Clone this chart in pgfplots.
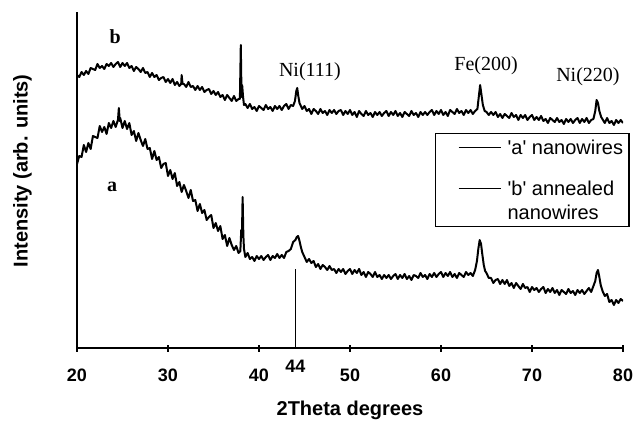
\documentclass[border=0pt]{standalone}
\usepackage{pgfplots}
\pgfplotsset{compat=1.18}
\usepackage{fontspec}
\newfontfamily\arial{Liberation Sans}
\newfontfamily\tnr{Liberation Serif}

\begin{document}
\begin{tikzpicture}
\path[use as bounding box] (0pt,0pt) rectangle (636pt,420pt);
\begin{axis}[
    at={(77pt,72pt)}, anchor=south west,
    scale only axis, width=546pt, height=336pt,
    xmin=20, xmax=80, ymin=-1, ymax=335,
    axis lines*=left,
    axis line style={line width=1.6pt},
    xtick={20,30,...,80}, ytick=\empty,
    xtick align=center, major tick length=7pt,
    tick style={line width=1.3pt, black},
    /pgf/number format/assume math mode=true,
    xticklabel style={font=\arial\bfseries\fontsize{18}{18}\selectfont, anchor=center, yshift=-24pt},
    extra x ticks={44},
    extra x tick style={major tick length=0pt, xticklabel style={yshift=6pt}},
    xlabel={2Theta degrees},
    xlabel style={font=\arial\bfseries\fontsize{20}{20}\selectfont, at={(axis description cs:0.5,0)}, anchor=center, yshift=-62pt},
    ylabel={Intensity (arb. units)},
    ylabel style={font=\arial\bfseries\fontsize{20}{20}\selectfont, at={(axis description cs:-0.1,0.527)}, anchor=center},
    legend style={at={(axis cs:59.34,214)}, anchor=north west, draw=black, line width=1.2pt,
        font=\arial\fontsize{20}{24}\selectfont, cells={anchor=west, align=left},
        row sep=21pt, inner xsep=4pt, inner ysep=4pt},
    legend image code/.code={\path (-18pt,0pt) (46pt,0pt); \draw[line width=1pt] (0pt,0pt) -- (42pt,0pt);},
]

% curve a : nanowires
\addplot[black, line width=2pt, line join=round] coordinates {
(20.00,183) (20.25,191) (20.50,190) (20.75,202) (21.00,195) (21.25,204) (21.50,198) (21.75,211)
(22.00,210) (22.25,209) (22.50,221) (22.75,215) (23.00,220) (23.25,213) (23.50,224) (23.75,219)
(24.00,226) (24.25,220) (24.50,227) (24.60,239) (24.70,226) (24.75,229) (25.00,219) (25.25,226)
(25.50,218) (25.75,224) (26.00,212) (26.25,216) (26.50,206) (26.75,214) (27.00,207) (27.25,201)
(27.50,208) (27.75,198) (28.00,199) (28.25,188) (28.50,196) (28.75,187) (29.00,190) (29.25,179)
(29.50,183) (29.75,184) (30.00,171) (30.25,177) (30.50,168) (30.75,174) (31.00,161) (31.25,165)
(31.50,155) (31.75,162) (32.00,156) (32.25,149) (32.50,157) (32.75,146) (33.00,147) (33.25,136)
(33.50,143) (33.75,134) (34.00,137) (34.25,127) (34.50,130) (34.75,132) (35.00,119) (35.25,124)
(35.50,116) (35.75,121) (36.00,108) (36.25,112) (36.50,101) (36.75,109) (37.00,102) (37.25,97)
(37.50,101) (37.75,94) (37.95,96) (38.05,117) (38.12,110) (38.20,150) (38.28,112) (38.35,98)
(38.50,90) (38.75,94) (39.00,88) (39.25,90) (39.50,86) (39.75,91) (40.00,88) (40.25,91)
(40.50,87) (40.75,90) (41.00,92) (41.25,87) (41.50,91) (41.75,89) (42.00,93) (42.25,89)
(42.50,92) (42.75,89) (43.00,95) (43.25,96) (43.50,98) (43.75,105) (44.00,107) (44.15,110)
(44.30,111) (44.45,106) (44.60,100) (44.75,95) (45.00,90) (45.25,85) (45.50,88) (45.75,84)
(46.00,86) (46.25,80) (46.50,83) (46.75,78) (47.00,82) (47.25,80) (47.50,77) (47.75,81)
(48.00,77) (48.25,78) (48.50,74) (48.75,78) (49.00,75) (49.25,78) (49.50,73) (49.75,76)
(50.00,78) (50.25,73) (50.50,77) (50.75,74) (51.00,78) (51.25,72) (51.50,75) (51.75,70)
(52.00,75) (52.25,73) (52.50,70) (52.75,75) (53.00,70) (53.25,72) (53.50,68) (53.75,72)
(54.00,69) (54.25,72) (54.50,68) (54.75,71) (55.00,73) (55.25,68) (55.50,72) (55.75,69)
(56.00,73) (56.25,68) (56.50,71) (56.75,67) (57.00,72) (57.25,71) (57.50,69) (57.75,74)
(58.00,70) (58.25,72) (58.50,68) (58.75,73) (59.00,70) (59.25,74) (59.50,70) (59.75,73)
(60.00,75) (60.25,70) (60.50,74) (60.75,71) (61.00,75) (61.25,70) (61.50,73) (61.75,69)
(62.00,74) (62.25,72) (62.50,70) (62.75,75) (63.00,72) (63.25,74) (63.50,71) (63.75,77)
(63.95,86) (64.10,98) (64.25,107) (64.40,103) (64.55,92) (64.70,82) (64.85,76) (65.00,74)
(65.25,69) (65.50,69) (65.75,64) (66.00,67) (66.25,68) (66.50,63) (66.75,67) (67.00,63)
(67.25,67) (67.50,61) (67.75,64) (68.00,59) (68.25,64) (68.50,61) (68.75,58) (69.00,63)
(69.25,59) (69.50,60) (69.75,55) (70.00,60) (70.25,57) (70.50,59) (70.75,55) (71.00,58)
(71.25,60) (71.50,54) (71.75,58) (72.00,55) (72.25,59) (72.50,54) (72.75,57) (73.00,52)
(73.25,57) (73.50,55) (73.75,53) (74.00,58) (74.25,54) (74.50,56) (74.75,52) (75.00,57)
(75.25,54) (75.50,57) (75.75,53) (76.00,56) (76.25,59) (76.50,55) (76.75,61) (76.95,66)
(77.10,74) (77.25,77) (77.40,70) (77.55,62) (77.75,56) (78.00,51) (78.25,53) (78.50,45)
(78.75,47) (79.00,42) (79.25,47) (79.50,44) (79.75,48) (80.00,46)
};
\addlegendentry{'a' nanowires}

% curve b : annealed nanowires
\addplot[black, line width=2pt, line join=round,
    legend image code/.code={\path (-18pt,-12pt) (46pt,12pt); \draw[line width=1pt] (0pt,12pt) -- (42pt,12pt);}] coordinates {
(20.00,272) (20.25,270) (20.50,275) (20.75,272) (21.00,276) (21.25,273) (21.50,279) (21.75,278)
(22.00,277) (22.25,283) (22.50,279) (22.75,281) (23.00,278) (23.25,283) (23.50,281) (23.75,284)
(24.00,280) (24.25,283) (24.50,285) (24.75,280) (25.00,284) (25.25,281) (25.50,284) (25.75,279)
(26.00,281) (26.25,276) (26.50,280) (26.75,278) (27.00,275) (27.25,279) (27.50,274) (27.75,275)
(28.00,270) (28.25,274) (28.50,270) (28.75,272) (29.00,267) (29.25,269) (29.50,270) (29.75,265)
(30.00,268) (30.25,264) (30.50,268) (30.75,262) (31.00,265) (31.25,261) (31.45,263) (31.50,272)
(31.60,263) (31.75,263) (32.00,260) (32.25,265) (32.50,260) (32.75,261) (33.00,257) (33.25,261)
(33.50,257) (33.75,260) (34.00,255) (34.25,257) (34.50,258) (34.75,253) (35.00,256) (35.25,252)
(35.50,255) (35.75,250) (36.00,252) (36.25,247) (36.50,252) (36.75,249) (37.00,246) (37.25,251)
(37.50,246) (37.75,248) (37.90,248) (38.00,302) (38.08,250) (38.15,262) (38.25,250) (38.35,242)
(38.50,243) (38.75,239) (39.00,243) (39.25,238) (39.50,240) (39.75,236) (40.00,241) (40.25,239)
(40.50,237) (40.75,242) (41.00,238) (41.25,240) (41.50,236) (41.75,241) (42.00,238) (42.25,241)
(42.50,237) (42.75,241) (43.00,243) (43.25,238) (43.50,242) (43.75,241) (43.95,246) (44.10,256)
(44.20,259) (44.30,252) (44.45,244) (44.60,241) (44.75,238) (45.00,241) (45.25,236) (45.50,238)
(45.75,233) (46.00,238) (46.25,236) (46.50,233) (46.75,238) (47.00,234) (47.25,236) (47.50,232)
(47.75,237) (48.00,234) (48.25,237) (48.50,233) (48.75,236) (49.00,237) (49.25,232) (49.50,236)
(49.75,233) (50.00,237) (50.25,232) (50.50,235) (50.75,230) (51.00,236) (51.25,233) (51.50,231)
(51.75,236) (52.00,232) (52.25,234) (52.50,230) (52.75,235) (53.00,232) (53.25,235) (53.50,231)
(53.75,234) (54.00,236) (54.25,231) (54.50,235) (54.75,232) (55.00,236) (55.25,231) (55.50,234)
(55.75,230) (56.00,235) (56.25,233) (56.50,231) (56.75,236) (57.00,232) (57.25,234) (57.50,230)
(57.75,235) (58.00,232) (58.25,235) (58.50,232) (58.75,235) (59.00,237) (59.25,232) (59.50,236)
(59.75,233) (60.00,237) (60.25,232) (60.50,235) (60.75,231) (61.00,237) (61.25,235) (61.50,233)
(61.75,238) (62.00,234) (62.25,236) (62.50,232) (62.75,237) (63.00,234) (63.25,237) (63.50,233)
(63.75,236) (64.00,238) (64.15,250) (64.30,262) (64.45,252) (64.60,242) (64.80,236) (65.00,235)
(65.25,232) (65.50,235) (65.75,232) (66.00,235) (66.25,230) (66.50,233) (66.75,229) (67.00,233)
(67.25,231) (67.50,229) (67.75,234) (68.00,230) (68.25,232) (68.50,227) (68.75,232) (69.00,229)
(69.25,232) (69.50,227) (69.75,230) (70.00,232) (70.25,227) (70.50,230) (70.75,227) (71.00,231)
(71.25,226) (71.50,228) (71.75,224) (72.00,229) (72.25,227) (72.50,225) (72.75,229) (73.00,225)
(73.25,227) (73.50,223) (73.75,228) (74.00,225) (74.25,228) (74.50,224) (74.75,227) (75.00,229)
(75.25,224) (75.50,228) (75.75,225) (76.00,229) (76.25,224) (76.50,227) (76.75,228) (76.95,236)
(77.10,247) (77.25,244) (77.40,236) (77.60,230) (77.80,227) (78.00,224) (78.25,229) (78.50,224)
(78.75,226) (79.00,222) (79.25,227) (79.50,224) (79.75,227) (80.00,224)
};
\addlegendentry{'b' annealed\\nanowires}

% marker line at 2theta = 44
\addplot[black, line width=0.8pt, forget plot] coordinates {(44,-1) (44,78)};

\draw[line width=1.6pt] (axis cs:19.45,-1) -- (axis cs:20,-1);

\node[font=\tnr\bfseries\fontsize{20}{20}\selectfont] at (axis cs:24.2,310) {b};
\node[font=\tnr\bfseries\fontsize{20}{20}\selectfont] at (axis cs:23.85,160) {a};
\node[font=\tnr\fontsize{20}{20}\selectfont] at (axis cs:45.6,275) {Ni(111)};
\node[font=\tnr\fontsize{20}{20}\selectfont] at (axis cs:64.95,281) {Fe(200)};
\node[font=\tnr\fontsize{20}{20}\selectfont] at (axis cs:76.15,270) {Ni(220)};
\end{axis}
\end{tikzpicture}
\end{document}
